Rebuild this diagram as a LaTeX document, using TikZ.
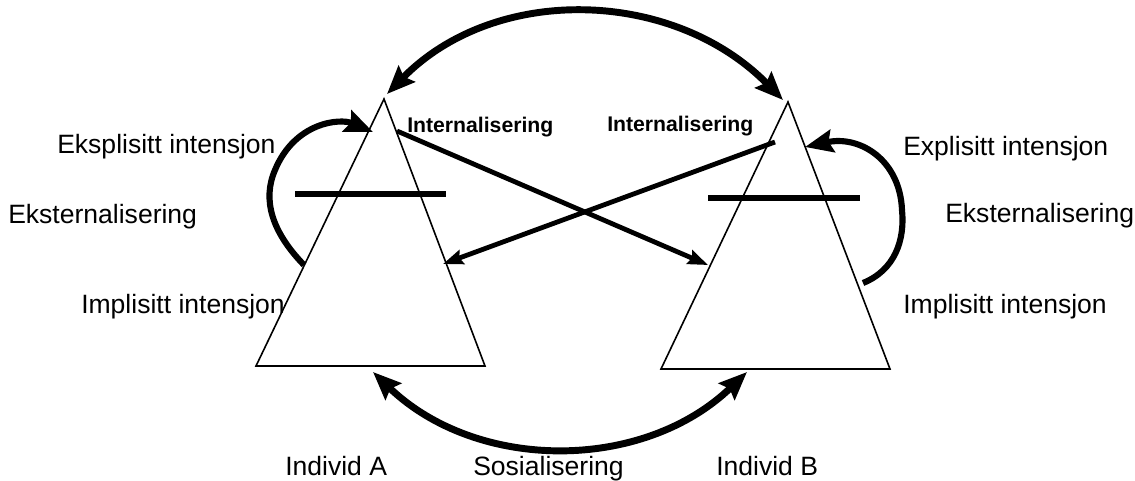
\documentclass[tikz,border=0pt]{standalone}
\usepackage{fontspec}
\setmainfont{Liberation Sans}
\usetikzlibrary{arrows.meta}

\begin{document}
\begin{tikzpicture}[x=0.75pt,y=-0.75pt,
  lbl/.style={anchor=base west,inner sep=0pt,font=\fontsize{19.9}{24}\selectfont},
  intlbl/.style={anchor=base west,inner sep=0pt,font=\fontsize{15.9}{19}\selectfont\bfseries},
  side/.style={line width=1.2pt},
  bar/.style={line width=5.2pt},
  looparrow/.style={line width=4.6pt,-{Stealth[length=21pt,width=17pt,inset=3pt]}},
  bothways/.style={line width=5.2pt,{Stealth[length=21pt,width=17pt,inset=3pt]}-{Stealth[length=21pt,width=17pt,inset=3pt]}},
  crossarrow/.style={line width=3.6pt,-{Stealth[length=15pt,width=11pt,inset=2pt]}}]

\useasboundingbox (0,0) rectangle (1135,480);

%% triangle corners
\coordinate (apexA) at (384,99);    %% individ A
\coordinate (leftA) at (256,366);
\coordinate (rightA) at (485,366);
\coordinate (apexB) at (788,102);   %% individ B
\coordinate (leftB) at (661,369);
\coordinate (rightB) at (890,369);

%% triangles
\draw[side] (apexA) -- (leftA) -- (rightA) -- cycle;
\draw[side] (apexB) -- (leftB) -- (rightB) -- cycle;

%% bars
\draw[bar] (295,194) -- (446,194);
\draw[bar] (708,198) -- (860,198);

%% arrow ends
\coordinate (topA) at (387,94);
\coordinate (topB) at (783,100);
\coordinate (botA) at (373,372);
\coordinate (botB) at (747,372);
\coordinate (implA) at (304,265);
\coordinate (explA) at (373,132);
\coordinate (implB) at (863,283);
\coordinate (explB) at (805,147);
\coordinate (outA) at (397,131);
\coordinate (inA) at (443,264);
\coordinate (outB) at (775,142);
\coordinate (inB) at (708,265);

%% labels
\node[lbl] (eksplA) at (57,153) {Eksplisitt intensjon};
\node[lbl] (ekstA) at (8,223) {Eksternalisering};
\node[lbl] (implAlbl) at (81,313) {Implisitt intensjon};
\node[lbl] (explBlbl) at (903,155) {Explisitt intensjon};
\node[lbl] (ekstB) at (945,222) {Eksternalisering};
\node[lbl] (implBlbl) at (903,313) {Implisitt intensjon};
\node[lbl] (indA) at (285,475) {Individ A};
\node[lbl] (sosial) at (473,475) {Sosialisering};
\node[lbl] (indB) at (716,475) {Individ B};
\node[intlbl] (intA) at (407,132) {Internalisering};
\node[intlbl] (intB) at (607,131) {Internalisering};

%% arrows
\draw[bothways] (topA) .. controls (496,-17) and (674,-11) .. (topB);
\draw[bothways] (botA) .. controls (477,472) and (643,472) .. (botB);
\draw[looparrow] (implA) .. controls (272,232) and (262,200) .. (275,170)
  .. controls (295,122) and (340,118) .. (explA);
\draw[looparrow] (implB) .. controls (895,270) and (905,240) .. (902,210)
  .. controls (900,160) and (860,135) .. (explB);
\draw[crossarrow] (outA) -- (inB);
\draw[crossarrow] (outB) -- (inA);
\end{tikzpicture}
\end{document}
